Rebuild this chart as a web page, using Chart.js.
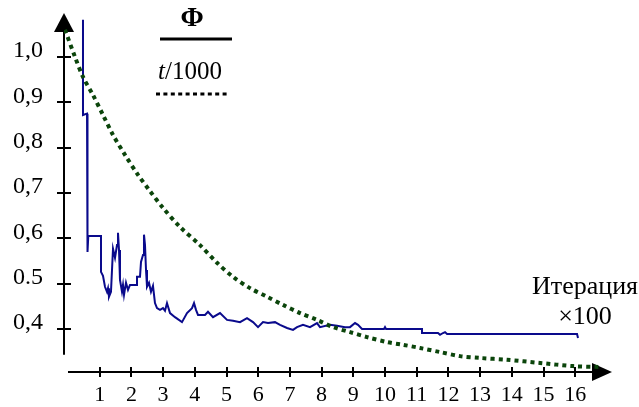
<!DOCTYPE html>
<html>
<head>
    <title>Итерация</title>
    <script src="https://cdn.jsdelivr.net/npm/chart.js"></script>
    <style>
        body { margin: 0; background: #fff; }
    </style>
</head>
<body>
    <canvas id="chart" width="639" height="407"></canvas>
    <script>
        // Φ (blue, solid) — iteration ×100 vs value
        const phiX = [0.473, 0.473, 0.6, 0.6, 0.615, 0.631, 0.64, 1.041, 1.041, 1.104, 1.167, 1.230, 1.262, 1.293, 1.356, 1.388, 1.420, 1.483, 1.546, 1.577,
            1.609, 1.640, 1.703, 1.735, 1.767, 1.830, 1.893, 1.956, 2.177, 2.177, 2.271, 2.303, 2.366, 2.397, 2.429, 2.461, 2.492, 2.555, 2.618, 2.681,
            2.744, 2.808, 2.902, 2.997, 3.060, 3.123, 3.218, 3.375, 3.596, 3.754, 3.912, 3.975, 4.038, 4.101, 4.322, 4.416, 4.574, 4.795, 5.016, 5.205,
            5.426, 5.647, 5.836, 5.994, 6.151, 6.309, 6.530, 6.688, 6.909, 7.098, 7.224, 7.413, 7.634, 7.855, 7.950, 8.265, 8.486, 8.738, 8.896, 9.054,
            9.148, 9.274, 9.968, 10.000, 10.032, 11.167, 11.167, 11.672, 11.735, 11.830, 11.893, 11.956, 16.057, 16.088];
        const phiY = [1.082, 0.872, 0.875, 0.629, 0.685, 0.570, 0.605, 0.605, 0.526, 0.517, 0.493, 0.482, 0.490, 0.471, 0.482, 0.530, 0.577, 0.557, 0.585, 0.612,
            0.574, 0.508, 0.482, 0.497, 0.475, 0.502, 0.486, 0.497, 0.497, 0.515, 0.515, 0.548, 0.563, 0.608, 0.585, 0.530, 0.493, 0.502, 0.482, 0.495,
            0.457, 0.446, 0.442, 0.446, 0.440, 0.457, 0.435, 0.426, 0.415, 0.435, 0.446, 0.457, 0.442, 0.431, 0.431, 0.438, 0.426, 0.435, 0.420, 0.418,
            0.415, 0.424, 0.415, 0.404, 0.415, 0.413, 0.415, 0.409, 0.402, 0.398, 0.404, 0.409, 0.404, 0.413, 0.404, 0.409, 0.407, 0.404, 0.404, 0.413,
            0.409, 0.400, 0.400, 0.404, 0.400, 0.400, 0.391, 0.391, 0.387, 0.391, 0.393, 0.389, 0.389, 0.380];

        // t/1000 (green, dotted)
        const tempX = [-0.095, 0.221, 0.473, 0.789, 1.104, 1.420, 1.798, 2.208, 2.587, 2.997, 3.533, 4.164, 4.700, 5.205, 5.741, 6.278,
            6.782, 7.319, 7.855, 8.360, 8.896, 9.432, 10.063, 10.568, 11.104, 11.735, 12.366, 12.997, 13.849, 14.890, 15.931, 16.782];
        const tempY = [1.060, 1.000, 0.956, 0.916, 0.872, 0.828, 0.784, 0.740, 0.704, 0.667, 0.625, 0.585, 0.546, 0.515, 0.490, 0.471,
            0.453, 0.435, 0.420, 0.404, 0.393, 0.382, 0.371, 0.365, 0.358, 0.349, 0.340, 0.336, 0.332, 0.325, 0.318, 0.316];

        const xTicks = [1, 2, 3, 4, 5, 6, 7, 8, 9, 10, 11, 12, 13, 14, 15, 16];
        const yTicks = [0.4, 0.5, 0.6, 0.7, 0.8, 0.9, 1.0];
        const yTickLabels = ['0,4', '0.5', '0,6', '0,7', '0,8', '0,9', '1,0'];

        const serif = '"Liberation Serif", "DejaVu Serif", serif';

        const toPoints = (xs, ys) => xs.map((x, i) => ({ x: x, y: ys[i] }));

        // axes with arrows and crossing ticks, legend, axis caption
        const axesPlugin = {
            id: 'axes',
            beforeDatasetsDraw(chart) {
                const { ctx, chartArea: a, scales: { x, y } } = chart;
                ctx.save();
                ctx.strokeStyle = '#000';
                ctx.fillStyle = '#000';
                ctx.lineWidth = 2;

                // y axis
                ctx.beginPath();
                ctx.moveTo(a.left, a.top + 15);
                ctx.lineTo(a.left, y.getPixelForValue(0.343));
                ctx.stroke();
                ctx.beginPath();
                ctx.moveTo(a.left, a.top);
                ctx.lineTo(a.left - 10, a.top + 19);
                ctx.lineTo(a.left + 10, a.top + 19);
                ctx.closePath();
                ctx.fill();
                y.ticks.forEach(t => {
                    const py = Math.round(y.getPixelForValue(t.value));
                    ctx.beginPath();
                    ctx.moveTo(a.left - 7, py);
                    ctx.lineTo(a.left + 7, py);
                    ctx.stroke();
                });

                // x axis
                ctx.beginPath();
                ctx.moveTo(x.getPixelForValue(0), a.bottom);
                ctx.lineTo(a.right - 15, a.bottom);
                ctx.stroke();
                ctx.beginPath();
                ctx.moveTo(a.right, a.bottom);
                ctx.lineTo(a.right - 20, a.bottom - 9);
                ctx.lineTo(a.right - 20, a.bottom + 9);
                ctx.closePath();
                ctx.fill();
                x.ticks.forEach(t => {
                    const px = Math.round(x.getPixelForValue(t.value));
                    ctx.beginPath();
                    ctx.moveTo(px, a.bottom - 5);
                    ctx.lineTo(px, a.bottom + 5);
                    ctx.stroke();
                });

                // legend
                ctx.textAlign = 'center';
                ctx.textBaseline = 'middle';
                ctx.font = 'bold 28px ' + serif;
                ctx.fillText('Φ', 192, 19);
                ctx.lineWidth = 3;
                ctx.beginPath();
                ctx.moveTo(160, 39);
                ctx.lineTo(232, 39);
                ctx.stroke();

                ctx.font = 'italic 25px ' + serif;
                const tw = ctx.measureText('t').width;
                ctx.font = '25px ' + serif;
                const rw = ctx.measureText('/1000').width;
                const sx = 190 - (tw + rw) / 2;
                ctx.textAlign = 'left';
                ctx.font = 'italic 25px ' + serif;
                ctx.fillText('t', sx, 72);
                ctx.font = '25px ' + serif;
                ctx.fillText('/1000', sx + tw, 72);

                ctx.setLineDash([4, 3.4]);
                ctx.beginPath();
                ctx.moveTo(156, 94);
                ctx.lineTo(230, 94);
                ctx.stroke();
                ctx.setLineDash([]);

                // axis caption
                ctx.textAlign = 'center';
                ctx.font = '26px ' + serif;
                ctx.fillText('Итерация', 585, 287);
                ctx.fillText('×100', 585, 317);
                ctx.restore();
            }
        };

        new Chart(document.getElementById('chart').getContext('2d'), {
            type: 'line',
            data: {
                datasets: [{
                    label: 't/1000',
                    data: toPoints(tempX, tempY),
                    borderColor: '#0b450b',
                    borderWidth: 4,
                    borderDash: [4, 4],
                    borderCapStyle: 'butt',
                    pointRadius: 0,
                    tension: 0.3,
                    fill: false
                }, {
                    label: 'Φ',
                    data: toPoints(phiX, phiY),
                    borderColor: '#0a0a8c',
                    borderWidth: 2,
                    pointRadius: 0,
                    tension: 0,
                    fill: false
                }]
            },
            options: {
                responsive: false,
                animation: false,
                layout: { padding: { top: 13, right: 27, left: 0, bottom: 0 } },
                plugins: {
                    legend: { display: false },
                    tooltip: { enabled: false }
                },
                scales: {
                    x: {
                        type: 'linear',
                        min: -0.126,
                        max: 17.16,
                        afterFit: s => { s.height = 35; s.paddingLeft = 0; s.paddingRight = 0; },
                        afterBuildTicks: s => { s.ticks = xTicks.map(v => ({ value: v })); },
                        grid: { display: false, drawTicks: false },
                        border: { display: false },
                        ticks: {
                            padding: 10,
                            color: '#000',
                            font: { family: serif, size: 22 },
                            callback: v => String(v)
                        }
                    },
                    y: {
                        type: 'linear',
                        min: 0.305,
                        max: 1.097,
                        afterFit: s => { s.width = 64; s.paddingTop = 0; s.paddingBottom = 0; },
                        afterBuildTicks: s => { s.ticks = yTicks.map(v => ({ value: v })); },
                        grid: { display: false, drawTicks: false },
                        border: { display: false },
                        ticks: {
                            padding: 21,
                            labelOffset: -6,
                            color: '#000',
                            font: { family: serif, size: 24 },
                            callback: v => yTickLabels[yTicks.findIndex(t => Math.abs(t - v) < 1e-6)]
                        }
                    }
                }
            },
            plugins: [axesPlugin]
        });
    </script>
</body>
</html>
